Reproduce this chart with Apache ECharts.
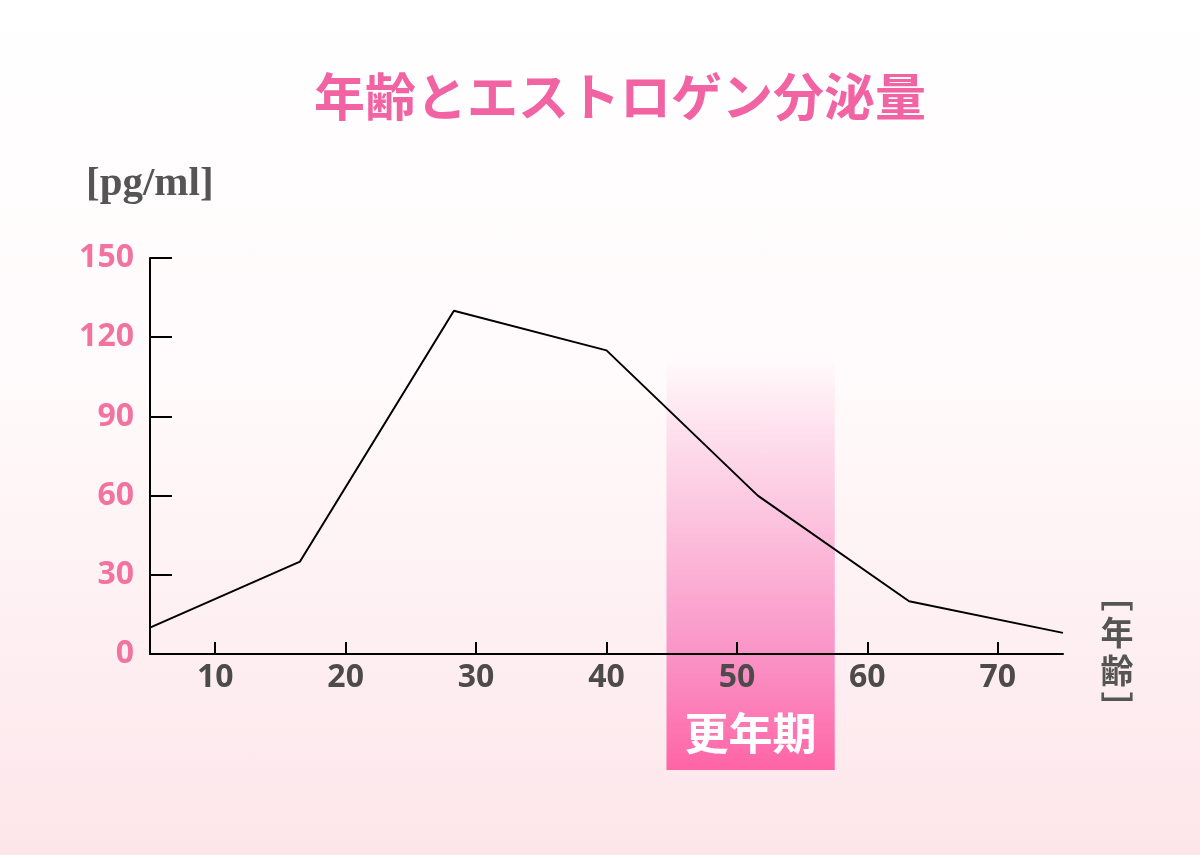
<!DOCTYPE html>
<html>
<head>
<meta charset="utf-8">
<script src="https://cdn.jsdelivr.net/npm/echarts@6/dist/echarts.min.js"></script>
<style>
  html, body { margin: 0; padding: 0; }
  #chart {
    width: 1200px; height: 855px;
    background: linear-gradient(to bottom, #ffffff 0%, #fffafb 45%, #fde6ea 100%);
  }
</style>
</head>
<body>
<div id="chart"></div>
<script>
// age (years) and estrogen level (pg/ml)
const ages = [5, 16.5, 28.3, 40, 51.6, 63.2, 75];
const estrogen = [10, 35, 130, 115, 60, 20, 8];
const xTicks = [10, 20, 30, 40, 50, 60, 70];
const yTicks = [0, 30, 60, 90, 120, 150];
// menopause band (age range) and how high it fades in
const bandAges = [44.6, 57.5];
const bandTop = 111;

const chartDom = document.getElementById('chart');
const chart = echarts.init(chartDom);

const grey = '#4d4a4b';

const option = {
    backgroundColor: 'transparent',
    title: {
        text: '年齢とエストロゲン分泌量',
        left: 615,
        top: 66,
        textAlign: 'center',
        textStyle: {
            color: '#f263a3',
            fontSize: 51,
            fontWeight: 'bold',
            fontFamily: 'Noto Sans CJK JP',
        },
    },
    grid: {
        left: 150,
        right: 137,
        top: 258,
        bottom: 201,
    },
    xAxis: {
        type: 'value',
        min: 5,
        max: 75,
        splitLine: { show: false },
        axisLine: { lineStyle: { color: '#000', width: 2 } },
        axisTick: {
            inside: true,
            length: 12,
            lineStyle: { color: '#000', width: 2 },
            customValues: xTicks,
        },
        axisLabel: {
            customValues: xTicks,
            color: grey,
            fontSize: 32,
            fontWeight: 'bold',
            fontFamily: 'Open Sans',
            margin: 8,
        },
        z: 10,
    },
    yAxis: {
        type: 'value',
        min: 0,
        max: 150,
        interval: 30,
        splitLine: { show: false },
        axisLine: { show: true, lineStyle: { color: '#000', width: 2 } },
        axisTick: {
            show: true,
            inside: true,
            length: 22,
            lineStyle: { color: '#000', width: 2 },
        },
        axisLabel: {
            color: '#f2739f',
            fontSize: 32,
            fontWeight: 'bold',
            fontFamily: 'Open Sans',
            margin: 16,
            padding: [16, 0, 0, 0],
            formatter: function (v) { return yTicks.indexOf(v) >= 0 ? String(v) : ''; },
        },
    },
    series: [
        {
            type: 'line',
            data: ages.map((a, i) => [a, estrogen[i]]),
            symbol: 'none',
            lineStyle: { color: '#000', width: 2 },
            z: 5,
        },
    ],
};

chart.setOption(option);

// band + side labels placed from data values
const bx0 = chart.convertToPixel({ xAxisIndex: 0 }, bandAges[0]);
const bx1 = chart.convertToPixel({ xAxisIndex: 0 }, bandAges[1]);
const by0 = chart.convertToPixel({ yAxisIndex: 0 }, bandTop);
const axisY = chart.convertToPixel({ yAxisIndex: 0 }, 0);
const bandBottom = axisY + 116;

chart.setOption({
    graphic: [
        {
            type: 'rect',
            shape: { x: bx0, y: by0, width: bx1 - bx0, height: bandBottom - by0 },
            style: {
                fill: new echarts.graphic.LinearGradient(0, 0, 0, 1, [
                    { offset: 0, color: 'rgba(250,140,190,0)' },
                    { offset: 0.3, color: 'rgba(250,150,200,0.4)' },
                    { offset: 0.7, color: 'rgba(249,140,195,0.9)' },
                    { offset: 1, color: 'rgba(255,100,165,1)' },
                ]),
            },
            z: 1,
            silent: true,
        },
        {
            type: 'text',
            x: (bx0 + bx1) / 2,
            y: bandBottom - 37,
            style: {
                text: '更年期',
                fill: '#fff',
                font: 'bold 44px "Noto Sans CJK JP"',
                textAlign: 'center',
                textVerticalAlign: 'middle',
            },
            z: 20,
        },
        {
            type: 'text',
            left: 86,
            top: 164,
            style: {
                text: '[pg/ml]',
                fill: '#555',
                font: 'bold 41px "Liberation Serif"',
            },
        },
        {
            type: 'text',
            x: 1117,
            y: 651,
            style: {
                text: '﹇\n年\n齢\n﹈',
                fill: '#555',
                font: 'bold 33px "Noto Sans CJK JP"',
                lineHeight: 38,
                textAlign: 'center',
                textVerticalAlign: 'middle',
            },
        },
    ],
});
</script>
</body>
</html>
